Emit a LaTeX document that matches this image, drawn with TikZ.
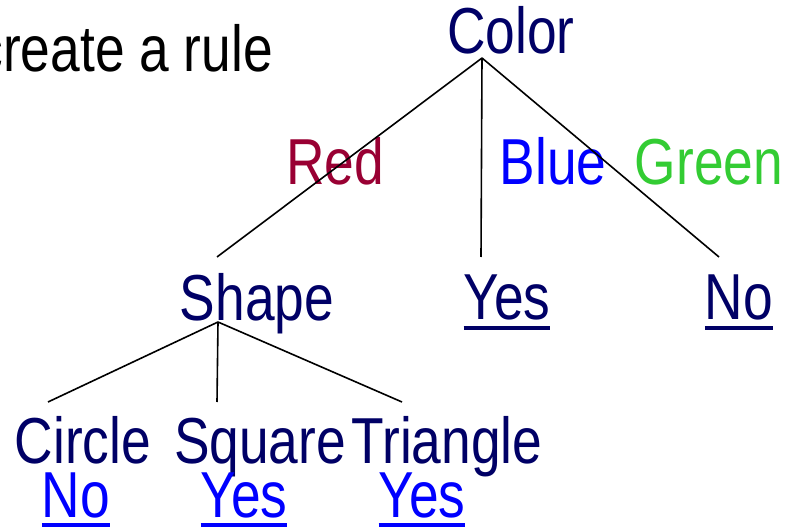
\documentclass[tikz,border=0pt]{standalone}
\usepackage{fontspec}
\setmainfont{Liberation Sans}[FakeStretch=0.82]
\definecolor{navy}{HTML}{000066}
\definecolor{redlbl}{HTML}{990033}
\definecolor{bluelbl}{HTML}{0000FF}
\definecolor{greenlbl}{HTML}{33CC33}
\newcommand\myul[1]{\setbox0\hbox{#1}\rlap{\rule[-10pt]{\wd0}{4pt}}\box0}
\begin{document}
\begin{tikzpicture}[x=1pt,y=1pt,
  lbl/.style={inner sep=0pt,anchor=base,font=\fontsize{65}{70}\selectfont},
  edge/.style={line width=1.6pt,black}]
\useasboundingbox (0,0) rectangle (798,528);
\clip (0,0) rectangle (798,528);
\node[lbl,anchor=base east] (title) at (273,456) {create a rule};
\node[lbl,navy] (color) at (511,474) {Color};
\node[lbl,redlbl] (red) at (335,343) {Red};
\node[lbl,bluelbl] (blue) at (553,343) {Blue};
\node[lbl,greenlbl] (green) at (709,343) {Green};
\node[lbl,navy] (shape) at (257,207) {Shape};
\node[lbl,navy] (yes1) at (507,208) {\myul{Yes}};
\node[lbl,navy] (no1) at (739,208) {\myul{No}};
\node[lbl,navy] (circle) at (83,65) {Circle};
\node[lbl,navy] (square) at (260,65) {Square};
\node[lbl,navy] (triangle) at (447,65) {Triangle};
\node[lbl,bluelbl] (no2) at (76,11) {\myul{No}};
\node[lbl,bluelbl] (yes2) at (244,11) {\myul{Yes}};
\node[lbl,bluelbl] (yes3) at (422,11) {\myul{Yes}};
\coordinate (root) at (482,470);
\coordinate (shapein) at (217,271);
\coordinate (yesin) at (481,271);
\coordinate (noin) at (719,271);
\coordinate (shapeout) at (218,206);
\coordinate (circin) at (48,126);
\coordinate (sqin) at (217,126);
\coordinate (triin) at (402,126);
\draw[edge] (root) -- (shapein);
\draw[edge] (root) -- (yesin);
\draw[edge] (root) -- (noin);
\draw[edge] (shapeout) -- (circin);
\draw[edge] (shapeout) -- (sqin);
\draw[edge] (shapeout) -- (triin);
\end{tikzpicture}
\end{document}
